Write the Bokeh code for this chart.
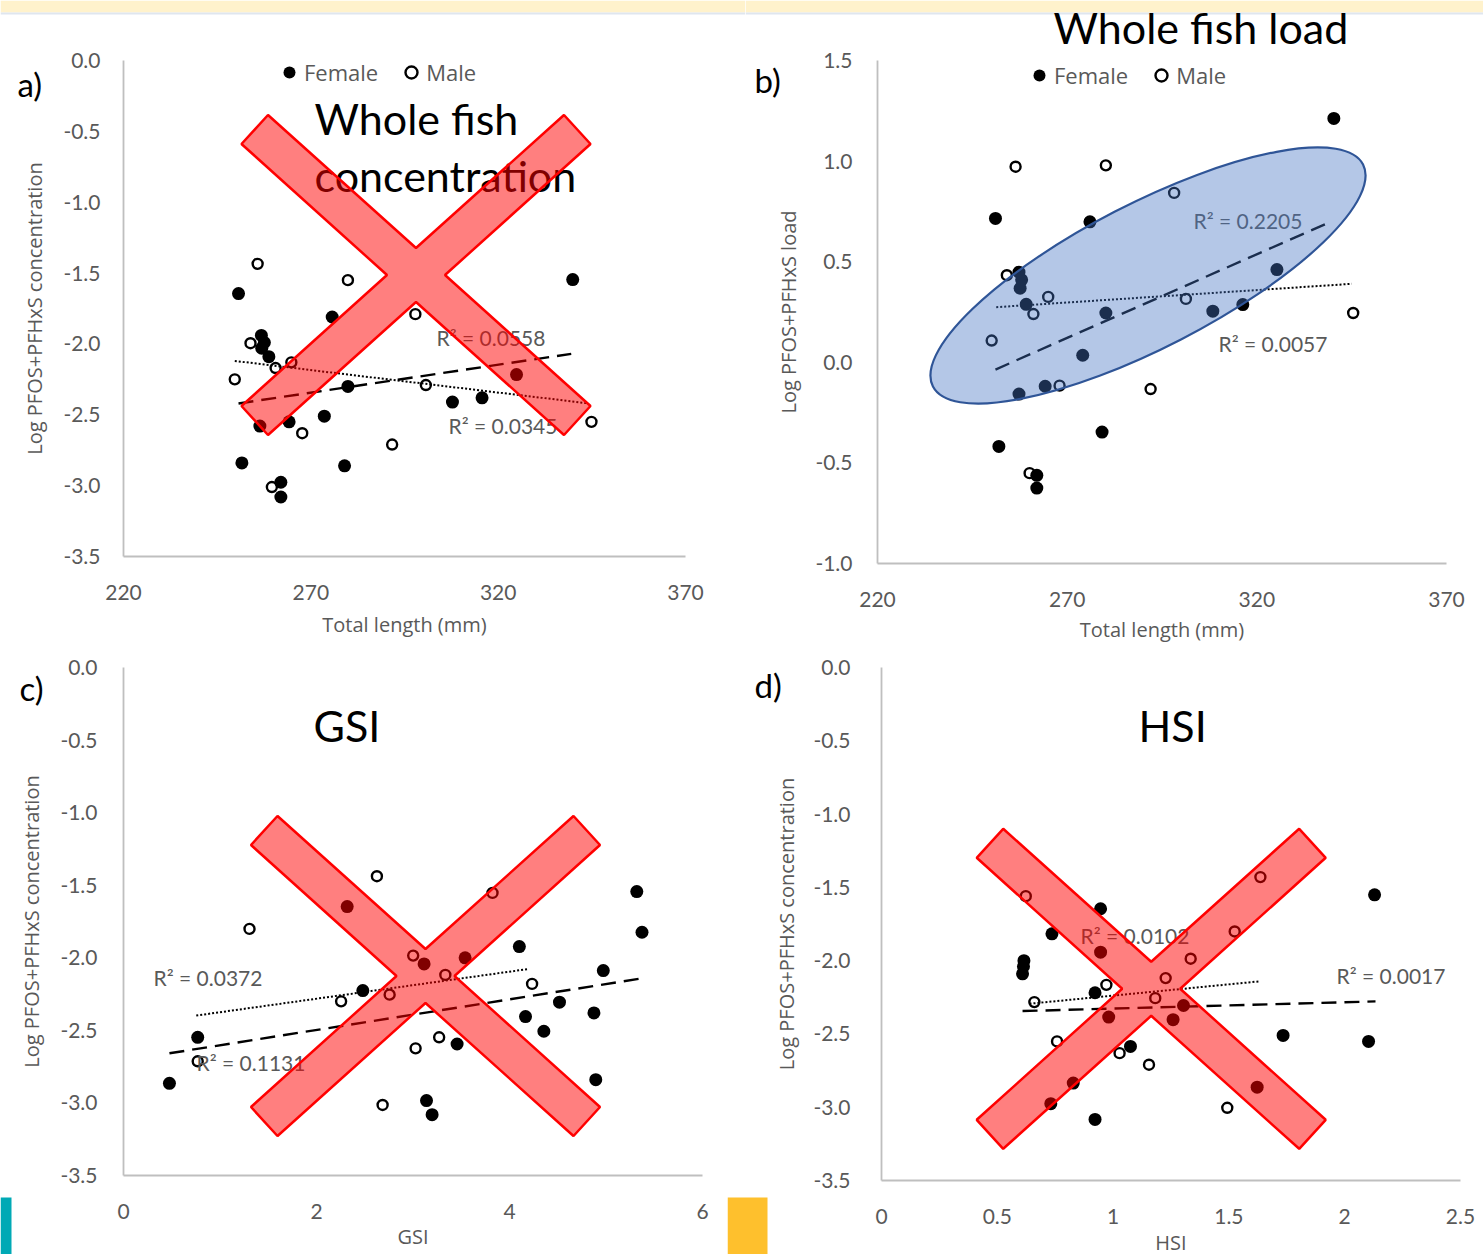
from bokeh.plotting import figure
from bokeh.models import (Range1d, FixedTicker, PrintfTickFormatter, Label, Legend,
                          LegendItem)
from bokeh.layouts import row, column
from bokeh.embed import file_html
from bokeh.resources import INLINE

# ---------------- data ----------------
# a) whole-fish concentration vs total length
a_f_len = [250.7, 275.7, 339.9, 256.8, 257.6, 256.9, 258.8, 256.4, 264.2, 279.9,
           273.6, 251.6, 279.0, 262.0, 262.0, 307.8, 315.7, 324.9]
a_f_val = [-1.645, -1.81, -1.546, -1.94, -1.99, -2.03, -2.09, -2.58, -2.55, -2.30,
           -2.51, -2.84, -2.86, -2.976, -3.08, -2.41, -2.38, -2.216]
a_m_len = [255.8, 279.9, 297.9, 253.9, 264.8, 260.6, 249.7, 300.7, 267.7, 291.7, 259.6, 344.9]
a_m_val = [-1.435, -1.55, -1.79, -1.995, -2.13, -2.17, -2.25, -2.29, -2.63, -2.71, -3.01, -2.55]
a_f_trend_x = [250.7, 339.5]
a_f_trend_y = [-2.42, -2.07]
a_m_trend_x = [249.7, 343.6]
a_m_trend_y = [-2.12, -2.418]
a_r2 = [0.0558, 0.0345]

# b) whole-fish load vs total length
b_f_len = [340.3, 251.1, 276.0, 257.3, 258.0, 257.6, 259.2, 325.3, 316.3, 308.4,
           280.2, 274.1, 257.3, 264.2, 252.0, 279.2, 262.0, 262.0]
b_f_val = [1.212, 0.715, 0.698, 0.448, 0.41, 0.368, 0.288, 0.461, 0.287, 0.254,
           0.245, 0.035, -0.158, -0.119, -0.418, -0.347, -0.562, -0.625]
b_m_len = [256.4, 280.2, 298.2, 254.1, 265.0, 301.3, 261.1, 345.4, 250.1, 268.0, 292.0, 260.1]
b_m_val = [0.972, 0.979, 0.842, 0.433, 0.325, 0.315, 0.24, 0.245, 0.108, -0.116, -0.133, -0.551]
b_f_trend_x = [251.1, 338.8]
b_f_trend_y = [-0.036, 0.693]
b_m_trend_x = [251.3, 345.0]
b_m_trend_y = [0.274, 0.39]
b_r2 = [0.2205, 0.0057]

# c) concentration vs GSI
c_f_gsi = [2.318, 5.319, 5.373, 4.102, 3.115, 3.54, 4.972, 2.48, 4.518, 4.166,
           4.875, 4.356, 0.769, 3.457, 0.476, 4.894, 3.14, 3.198]
c_f_val = [-1.647, -1.544, -1.824, -1.923, -2.042, -2.0, -2.088, -2.226, -2.306, -2.405,
           -2.38, -2.506, -2.548, -2.594, -2.865, -2.84, -2.984, -3.081]
c_m_gsi = [2.626, 3.824, 1.306, 3.002, 3.335, 4.234, 2.255, 2.758, 3.271, 3.027, 0.769, 2.685]
c_m_val = [-1.438, -1.553, -1.801, -1.985, -2.118, -2.18, -2.3, -2.254, -2.548, -2.624, -2.713, -3.014]
c_f_trend_x = [0.476, 5.398]
c_f_trend_y = [-2.658, -2.139]
c_m_trend_x = [0.754, 4.2]
c_m_trend_y = [-2.398, -2.077]
c_r2 = [0.0372, 0.1131]

# d) concentration vs HSI
d_f_hsi = [0.946, 0.736, 2.129, 0.946, 0.615, 0.613, 0.609, 0.922, 1.304, 0.981,
           1.259, 1.734, 2.103, 1.075, 0.828, 1.622, 0.731, 0.922]
d_f_val = [-1.646, -1.817, -1.551, -1.942, -2.0, -2.04, -2.09, -2.219, -2.306, -2.385,
           -2.403, -2.51, -2.551, -2.585, -2.835, -2.863, -2.976, -3.083]
d_m_hsi = [0.623, 1.636, 1.525, 1.335, 1.227, 0.971, 0.66, 1.182, 0.758, 1.028, 1.155, 1.493]
d_m_val = [-1.56, -1.43, -1.801, -1.987, -2.119, -2.165, -2.283, -2.256, -2.551, -2.631, -2.71, -3.004]
d_f_trend_x = [0.609, 2.133]
d_f_trend_y = [-2.344, -2.278]
d_m_trend_x = [0.639, 1.628]
d_m_trend_y = [-2.294, -2.142]
d_r2 = [0.0102, 0.0017]

len_ticks = [220, 270, 320, 370]
conc_ticks = [0, -0.5, -1.0, -1.5, -2.0, -2.5, -3.0, -3.5]
load_ticks = [1.5, 1.0, 0.5, 0.0, -0.5, -1.0]
gsi_ticks = [0, 2, 4, 6]
hsi_ticks = [0, 0.5, 1, 1.5, 2, 2.5]
hsi_tick_labels = ["0", "0.5", "1", "1.5", "2", "2.5"]

# ---------------- styling ----------------
TICK_FONT = "Lato"
AX_FONT = "Open Sans"
GREY = "#595959"
AXIS_GREY = "#BFBFBF"

# axes box geometry on the page (left, top, width, height) with the value ranges
GA = dict(left=123, top=60, w=562, h=496, xr=(220, 370), yr=(-3.5, 0))
GB = dict(left=877, top=60, w=569, h=503, xr=(220, 370), yr=(-1.0, 1.5))
GC = dict(left=123, top=667, w=579, h=508, xr=(0, 6), yr=(-3.5, 0))
GD = dict(left=881, top=667, w=579, h=513, xr=(0, 2.5), yr=(-3.5, 0))
# canvas of each figure on the page (x0, y0, x1, y1)
CA = (0, 0, 745, 648)
CB = (745, 0, 1483, 648)
CC = (0, 648, 727, 1254)
CD = (727, 648, 1483, 1254)


def to_data(g, px, py):
    x0, x1 = g["xr"]
    y0, y1 = g["yr"]
    return (x0 + (px - g["left"]) / g["w"] * (x1 - x0),
            y1 - (py - g["top"]) / g["h"] * (y1 - y0))


def make_fig(g, canvas, xticks, yticks, xlabel, ylabel, ystand, ylab_stand, xlab_stand):
    cx0, cy0, cx1, cy1 = canvas
    vx0, vy1 = to_data(g, cx0, cy0)
    vx1, vy0 = to_data(g, cx1, cy1)
    p = figure(frame_width=cx1 - cx0, frame_height=cy1 - cy0,
               x_range=Range1d(vx0, vx1), y_range=Range1d(vy0, vy1),
               min_border=0, output_backend="svg", toolbar_location=None,
               outline_line_color=None, background_fill_color="white",
               border_fill_color="white")
    p.grid.visible = False
    p.xaxis.fixed_location = g["yr"][0]
    p.xaxis.bounds = g["xr"]
    p.yaxis.fixed_location = g["xr"][0]
    p.yaxis.bounds = g["yr"]
    p.xaxis.ticker = FixedTicker(ticks=xticks)
    p.yaxis.ticker = FixedTicker(ticks=yticks)
    p.yaxis.formatter = PrintfTickFormatter(format="%.1f")
    for ax in (p.xaxis[0], p.yaxis[0]):
        ax.axis_line_color = AXIS_GREY
        ax.axis_line_width = 1.8
        ax.major_tick_line_color = None
        ax.minor_tick_line_color = None
        ax.major_label_text_font = TICK_FONT
        ax.major_label_text_font_size = "21px"
        ax.major_label_text_color = GREY
        ax.axis_label_text_font = AX_FONT
        ax.axis_label_text_font_size = "20px"
        ax.axis_label_text_font_style = "normal"
        ax.axis_label_text_color = GREY
    p.yaxis.major_label_standoff = ystand
    p.yaxis.axis_label = ylabel
    p.yaxis.axis_label_standoff = ylab_stand
    p.xaxis.major_label_standoff = 22
    p.xaxis.axis_label = xlabel
    p.xaxis.axis_label_standoff = xlab_stand
    return p


def add_text(p, g, text, px, py, size, font, color="black", align="left"):
    x, y = to_data(g, px, py)
    p.add_layout(Label(x=x, y=y, text=text, text_font=font, text_font_size=f"{size}px",
                       text_color=color, text_align=align, text_baseline="middle"))


def add_block(p, g, px0, py0, px1, py1, color):
    # decorative slide block (page furniture), given in page pixels
    x0, y1 = to_data(g, px0, py0)
    x1, y0 = to_data(g, px1, py1)
    p.quad(left=[x0], right=[x1], bottom=[y0], top=[y1], fill_color=color,
           line_color=None, level="underlay")


def add_points(p, fx, fy, mx, my):
    rm = p.scatter(mx, my, marker="circle", size=10, fill_color=None,
                   line_color="black", line_width=2.4)
    rf = p.scatter(fx, fy, marker="circle", size=13, fill_color="black", line_color=None)
    return rf, rm


def add_trends(p, fx, fy, mx, my):
    p.line(fx, fy, line_color="black", line_width=2.4, line_dash="15 8")
    p.line(mx, my, line_color="black", line_width=2.0, line_dash="2 2")


def add_legend(p, rf, rm, vx, vy):
    leg = Legend(items=[LegendItem(label="Female", renderers=[rf]),
                        LegendItem(label="Male", renderers=[rm])],
                 orientation="horizontal", location=(vx, vy),
                 glyph_width=30, glyph_height=30, label_standoff=0, spacing=18,
                 padding=0, margin=0, background_fill_alpha=0, border_line_color=None,
                 label_text_font=AX_FONT, label_text_font_size="22px",
                 label_text_color=GREY, label_text_baseline="middle")
    p.add_layout(leg)


# red "X" outline, in pixel offsets from its centre (dx right, dy down)
X_OFFS = [(-148, -160), (0, -27), (148, -160), (174.5, -131), (29, 0), (174.5, 131),
          (148, 160), (0, 27), (-148, 160), (-174.5, 131), (-29, 0), (-174.5, -131)]


def add_cross(p, g, pcx, pcy):
    cx, cy = to_data(g, pcx, pcy)
    sx = (g["xr"][1] - g["xr"][0]) / g["w"]
    sy = (g["yr"][1] - g["yr"][0]) / g["h"]
    xs = [cx + dx * sx for dx, dy in X_OFFS]
    ys = [cy - dy * sy for dx, dy in X_OFFS]
    p.patch(xs, ys, fill_color="red", fill_alpha=0.5, line_color="red",
            line_width=2.5, level="overlay")


# ---------------- panel a ----------------
pa = make_fig(GA, CA, len_ticks, conc_ticks, "Total length (mm)",
              "Log PFOS+PFHxS concentration", 17, 12, 8)
add_block(pa, GA, 0, 0, 745, 12, "#FFF2CC")
add_block(pa, GA, 0, 12, 745, 14, "#DFE6EF")
add_trends(pa, a_f_trend_x, a_f_trend_y, a_m_trend_x, a_m_trend_y)
rf, rm = add_points(pa, a_f_len, a_f_val, a_m_len, a_m_val)
add_legend(pa, rf, rm, 274 - CA[0], CA[3] - 87)
add_text(pa, GA, f"R\u00b2 = {a_r2[0]:.4f}", 436, 337, 21, TICK_FONT, GREY)
add_text(pa, GA, f"R\u00b2 = {a_r2[1]:.4f}", 448, 425, 21, TICK_FONT, GREY)
add_text(pa, GA, "a)", 17, 83, 33, TICK_FONT)
add_text(pa, GA, "Whole fish", 314, 118, 43, TICK_FONT)
add_text(pa, GA, "concentration", 314, 175, 43, TICK_FONT)
add_cross(pa, GA, 415.5, 274.5)

# ---------------- panel b ----------------
pb = make_fig(GB, CB, len_ticks, load_ticks, "Total length (mm)",
              "Log PFOS+PFHxS load", 19, 10, 6)
add_block(pb, GB, 745, 0, 1483, 12, "#FFF2CC")
add_block(pb, GB, 745, 12, 1483, 14, "#DFE6EF")
add_trends(pb, b_f_trend_x, b_f_trend_y, b_m_trend_x, b_m_trend_y)
rf, rm = add_points(pb, b_f_len, b_f_val, b_m_len, b_m_val)
add_legend(pb, rf, rm, 1024 - CB[0], CB[3] - 90)
add_text(pb, GB, f"R\u00b2 = {b_r2[0]:.4f}", 1193, 220, 21, TICK_FONT, GREY)
add_text(pb, GB, f"R\u00b2 = {b_r2[1]:.4f}", 1218, 343, 21, TICK_FONT, GREY)
add_text(pb, GB, "b)", 754, 79, 33, TICK_FONT)
add_text(pb, GB, "Whole fish load", 1053, 27, 43, TICK_FONT)
ecx, ecy = to_data(GB, 1147.5, 275)
pb.ellipse(x=[ecx], y=[ecy], width=484, height=144, angle=27.3, angle_units="deg",
           width_units="screen", height_units="screen",
           fill_color="#4472C4", fill_alpha=0.4, line_color="#2F5597", line_width=2.2,
           level="overlay")

# ---------------- panel c ----------------
pc = make_fig(GC, CC, gsi_ticks, conc_ticks, "GSI",
              "Log PFOS+PFHxS concentration", 20, 12, 1)
add_block(pc, GC, 0, 1197, 11, 1254, "#00A9B5")
add_trends(pc, c_f_trend_x, c_f_trend_y, c_m_trend_x, c_m_trend_y)
add_points(pc, c_f_gsi, c_f_val, c_m_gsi, c_m_val)
add_text(pc, GC, f"R\u00b2 = {c_r2[0]:.4f}", 153, 977, 21, TICK_FONT, GREY)
add_text(pc, GC, f"R\u00b2 = {c_r2[1]:.4f}", 196, 1062, 21, TICK_FONT, GREY)
add_text(pc, GC, "c)", 19, 687, 33, TICK_FONT)
add_text(pc, GC, "GSI", 313, 725, 43, TICK_FONT)
add_cross(pc, GC, 425, 975.5)

# ---------------- panel d ----------------
pd_ = make_fig(GD, CD, hsi_ticks, conc_ticks, "HSI",
               "Log PFOS+PFHxS concentration", 25, 10, 2)
pd_.xaxis.major_label_overrides = dict(zip(hsi_ticks, hsi_tick_labels))
add_block(pd_, GD, 727, 1197, 767, 1254, "#FEC02D")
add_trends(pd_, d_f_trend_x, d_f_trend_y, d_m_trend_x, d_m_trend_y)
add_points(pd_, d_f_hsi, d_f_val, d_m_hsi, d_m_val)
add_text(pd_, GD, f"R\u00b2 = {d_r2[0]:.4f}", 1080, 935, 21, TICK_FONT, GREY)
add_text(pd_, GD, f"R\u00b2 = {d_r2[1]:.4f}", 1336, 975, 21, TICK_FONT, GREY)
add_text(pd_, GD, "d)", 754, 684, 33, TICK_FONT)
add_text(pd_, GD, "HSI", 1138, 725, 43, TICK_FONT)
add_cross(pd_, GD, 1150.7, 988.3)

layout = column(row(pa, pb), row(pc, pd_))

open("out.html", "w").write(file_html(layout, INLINE))
